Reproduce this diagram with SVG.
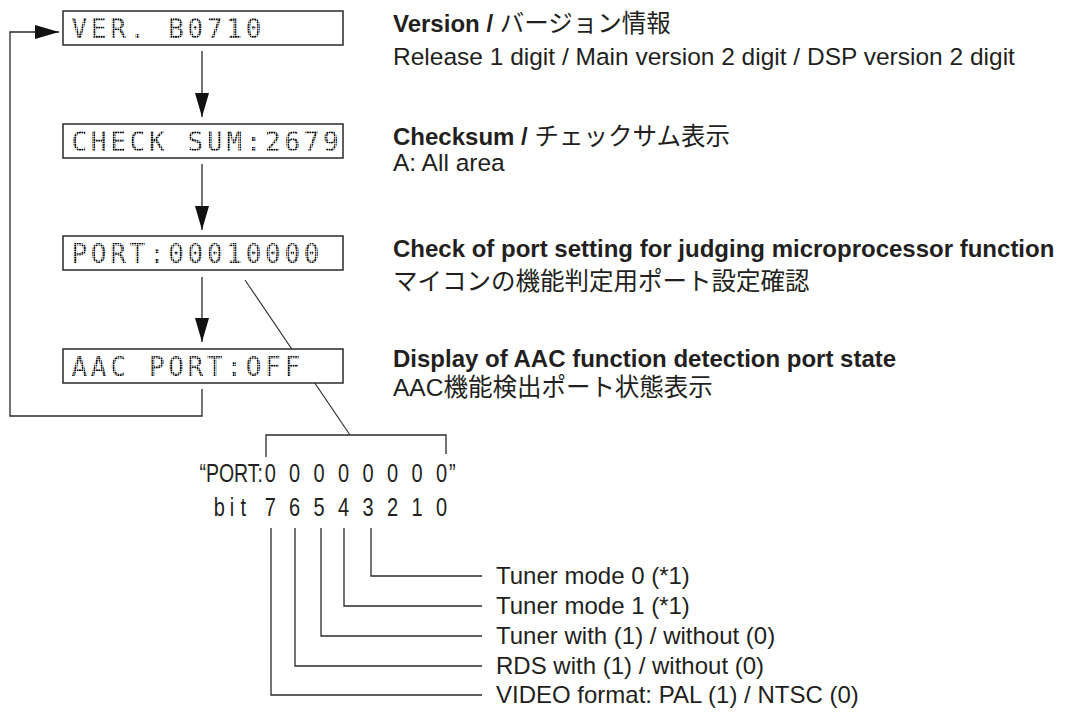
<svg xmlns="http://www.w3.org/2000/svg" width="1066" height="714" viewBox="0 0 1066 714">
  <style>
    .box { fill: #ffffff; stroke: #2a2a2a; stroke-width: 1.5; }
    .lcd { font-family: "DejaVu Sans Mono", "Liberation Mono", monospace; font-size: 26px; letter-spacing: 3.7px; fill: url(#dots); }
    .wire { fill: none; stroke: #2a2a2a; stroke-width: 1.3; }
    .thin { fill: none; stroke: #2a2a2a; stroke-width: 1.1; }
    .desc { font-family: "Liberation Sans", Arial, "Noto Sans CJK JP", sans-serif; font-size: 24.5px; fill: #231f20; }
    .lbl { font-family: "Liberation Sans", Arial, sans-serif; font-size: 24px; fill: #231f20; }
    .b { font-weight: bold; }
    .bb { font-size: 24px; }
    .cond { font-family: "Liberation Sans", Arial, sans-serif; font-size: 25px; fill: #231f20; }
  </style>
  <defs>
    <pattern id="dots" width="2.4" height="2.4" patternUnits="userSpaceOnUse">
      <rect x="0" y="0" width="1.8" height="1.8" fill="#000000"/>
    </pattern>
    <marker id="arr" markerUnits="userSpaceOnUse" markerWidth="24" markerHeight="14" refX="24" refY="7" orient="auto">
      <path d="M0,0 L24,7 L0,14 Z" fill="#111"/>
    </marker>
  </defs>

  <g id="connectors">
    <line class="wire" x1="202" y1="51" x2="202" y2="117" marker-end="url(#arr)"/>
    <line class="wire" x1="202" y1="164" x2="202" y2="230" marker-end="url(#arr)"/>
    <line class="wire" x1="202" y1="277" x2="202" y2="342" marker-end="url(#arr)"/>
    <path class="wire" d="M202,389 V416 H10 V32 H59" marker-end="url(#arr)"/>
    <line class="thin" x1="245" y1="280" x2="350" y2="435"/>
    <path class="wire" d="M266,457 V435 H446 V454"/>
    <path class="wire" d="M371,528 V576 H482"/>
    <path class="wire" d="M344,528 V606 H482"/>
    <path class="wire" d="M321,528 V636 H482"/>
    <path class="wire" d="M295,528 V666 H482"/>
    <path class="wire" d="M271,528 V695 H482"/>
  </g>

  <g id="node-ver">
    <rect class="box" x="63" y="11" width="280" height="34"/>
    <text class="lcd" x="71.5" y="38">VER. B0710</text>
  </g>
  <g id="node-checksum">
    <rect class="box" x="63" y="124" width="280" height="34"/>
    <text class="lcd" x="71.5" y="151">CHECK SUM:2679</text>
  </g>
  <g id="node-port">
    <rect class="box" x="63" y="236" width="280" height="34"/>
    <text class="lcd" x="71.5" y="263">PORT:00010000</text>
  </g>
  <g id="node-aac">
    <rect class="box" x="63" y="349" width="280" height="34"/>
    <text class="lcd" x="71.5" y="376">AAC PORT:OFF</text>
  </g>

  <g id="descriptions">
    <text class="desc" x="393" y="32"><tspan class="b bb">Version /</tspan> バージョン情報</text>
    <text class="desc" x="393" y="65">Release 1 digit / Main version 2 digit / DSP version 2 digit</text>
    <text class="desc" x="393" y="145"><tspan class="b bb">Checksum /</tspan> チェックサム表示</text>
    <text class="desc" x="393" y="171">A: All area</text>
    <text class="desc b bb" x="393" y="257">Check of port setting for judging microprocessor function</text>
    <text class="desc" x="393" y="290">マイコンの機能判定用ポート設定確認</text>
    <text class="desc b bb" x="393" y="367">Display of AAC function detection port state</text>
    <text class="desc" x="393" y="396">AAC機能検出ポート状態表示</text>
  </g>

  <g id="port-detail">
    <text class="cond" transform="translate(263,482) scale(0.78,1)" text-anchor="end">“PORT:</text>
    <text class="cond" transform="translate(0,482) scale(0.8,1)" text-anchor="middle" x="338 368.1 398.8 429.4 460 490.6 521.3 551.9">00000000</text>
    <text class="cond" transform="translate(449,482) scale(0.8,1)" x="0">”</text>
    <text class="cond" transform="translate(0,516) scale(0.8,1)" text-anchor="middle" x="274 290 304 338 368.1 398.8 429.4 460 490.6 521.3 551.9">bit76543210</text>
  </g>

  <g id="bit-labels">
    <text class="lbl" x="496" y="584">Tuner mode 0 (*1)</text>
    <text class="lbl" x="496" y="614">Tuner mode 1 (*1)</text>
    <text class="lbl" x="496" y="644">Tuner with (1) / without (0)</text>
    <text class="lbl" x="496" y="674">RDS with (1) / without (0)</text>
    <text class="lbl" x="496" y="703">VIDEO format: PAL (1) / NTSC (0)</text>
  </g>
</svg>
